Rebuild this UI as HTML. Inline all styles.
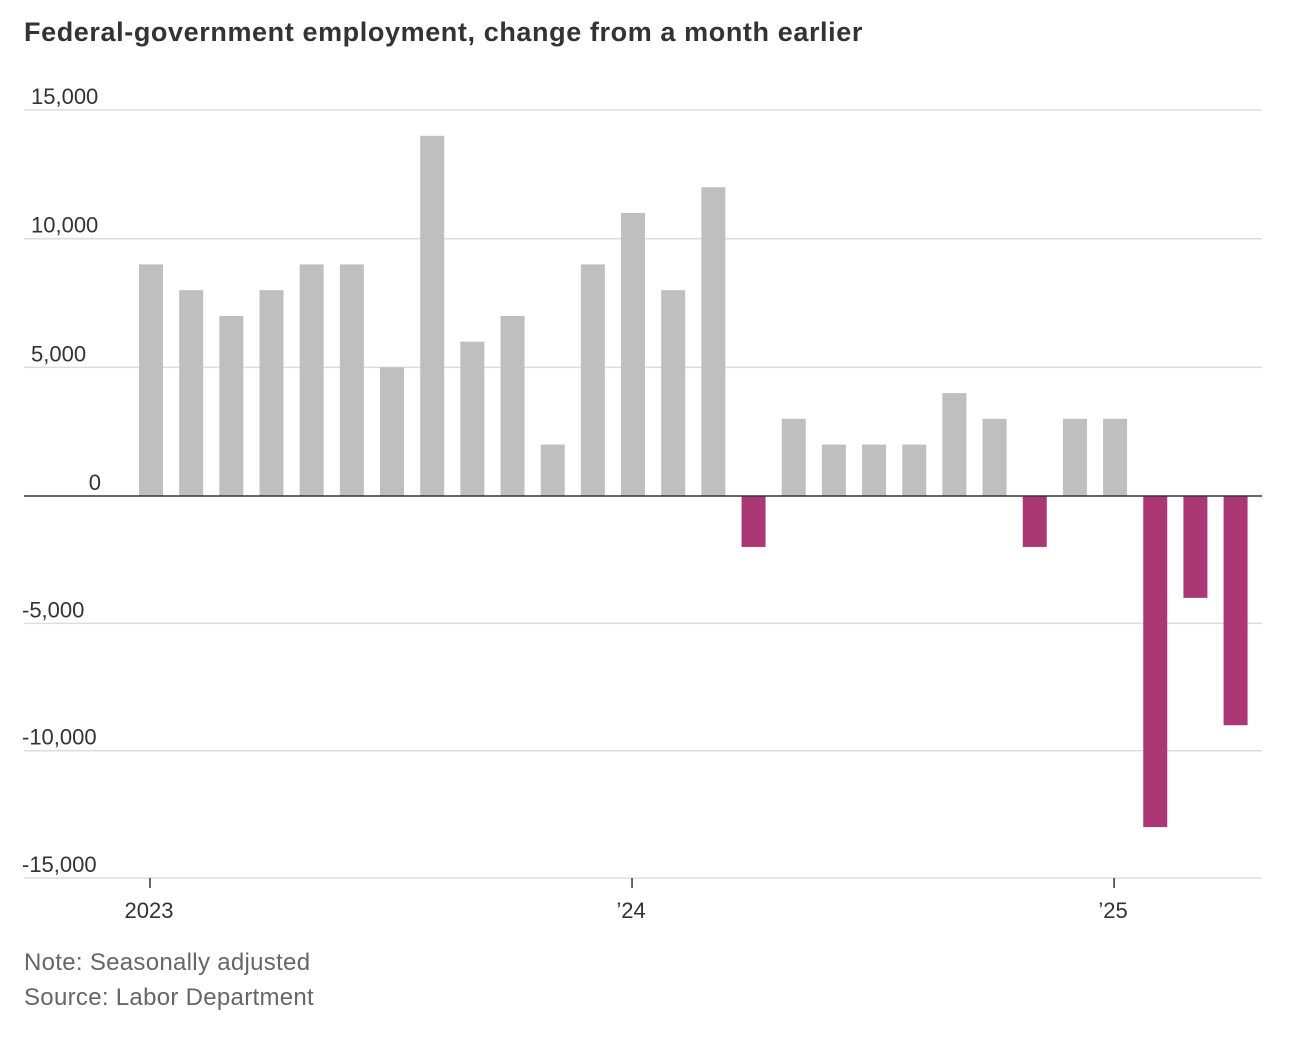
<!DOCTYPE html>
<html><head><meta charset="utf-8"><style>
body{margin:0;background:#fff;width:1302px;height:1042px;overflow:hidden;font-family:"Liberation Sans",sans-serif}
.t{position:absolute;left:24px;top:17px;font-size:27px;font-weight:bold;color:#333;letter-spacing:0.6px}
.n{position:absolute;left:24px;font-size:24px;color:#666;letter-spacing:0.3px}
</style></head><body>
<div class="t">Federal-government employment, change from a month earlier</div>
<svg id="c" width="1302" height="1042" style="position:absolute;left:0;top:0"></svg>
<div class="n" style="top:949px">Note: Seasonally adjusted</div>
<div class="n" style="top:984px">Source: Labor Department</div>
<script>
const values=[9000,8000,7000,8000,9000,9000,5000,14000,6000,7000,2000,9000,11000,8000,12000,-2000,3000,2000,2000,2000,4000,3000,-2000,3000,3000,-13000,-4000,-9000];
const yTicks=[15000,10000,5000,0,-5000,-10000,-15000];
const yTickLabels=["15,000","10,000","5,000","0","-5,000","-10,000","-15,000"];
const xTickIdx=[0,12,24];
const xTickLabels=["2023","\u201924","\u201925"];
const NS="http://www.w3.org/2000/svg",svg=document.getElementById('c');
const y=v=>496-v*(v>0?0.02573:0.02547);
const x=i=>151+i*40.17;
function mk(t,a){const e=document.createElementNS(NS,t);for(const k in a)e.setAttribute(k,a[k]);svg.appendChild(e);return e;}
yTicks.forEach((v,i)=>{
 if(v!==0){const l=mk('line',{x1:24,x2:1262,y1:y(v),y2:y(v),stroke:'#ddd','stroke-width':1.5});
 
 }
 const t=mk('text',{x:v===0?101:(v<0?22:31),y:y(v)-6,'font-size':22,fill:'#333','text-anchor':v===0?'end':'start','font-family':'Liberation Sans, sans-serif'});
 t.textContent=yTickLabels[i];
 
 
});
values.forEach((v,i)=>{
 const r=mk('rect',{x:x(i)-12,y:Math.min(y(v),y(0)),width:24,height:Math.abs(y(v)-y(0)),fill:v<0?'#ab3874':'#bfbfbf'});
 
 
});
const z=mk('line',{x1:24,x2:1262,y1:y(0),y2:y(0),stroke:'#333','stroke-width':1.5});


xTickIdx.forEach((d,i)=>{
 const tk=mk('line',{x1:x(d)-1,x2:x(d)-1,y1:878,y2:888,stroke:'#333','stroke-width':1.5});
 
 
 const t=mk('text',{x:x(d)-2,y:918,'font-size':22,fill:'#333','text-anchor':'middle','font-family':'Liberation Sans, sans-serif'});
 t.textContent=xTickLabels[i];
 
 
});
</script>
</body></html>
